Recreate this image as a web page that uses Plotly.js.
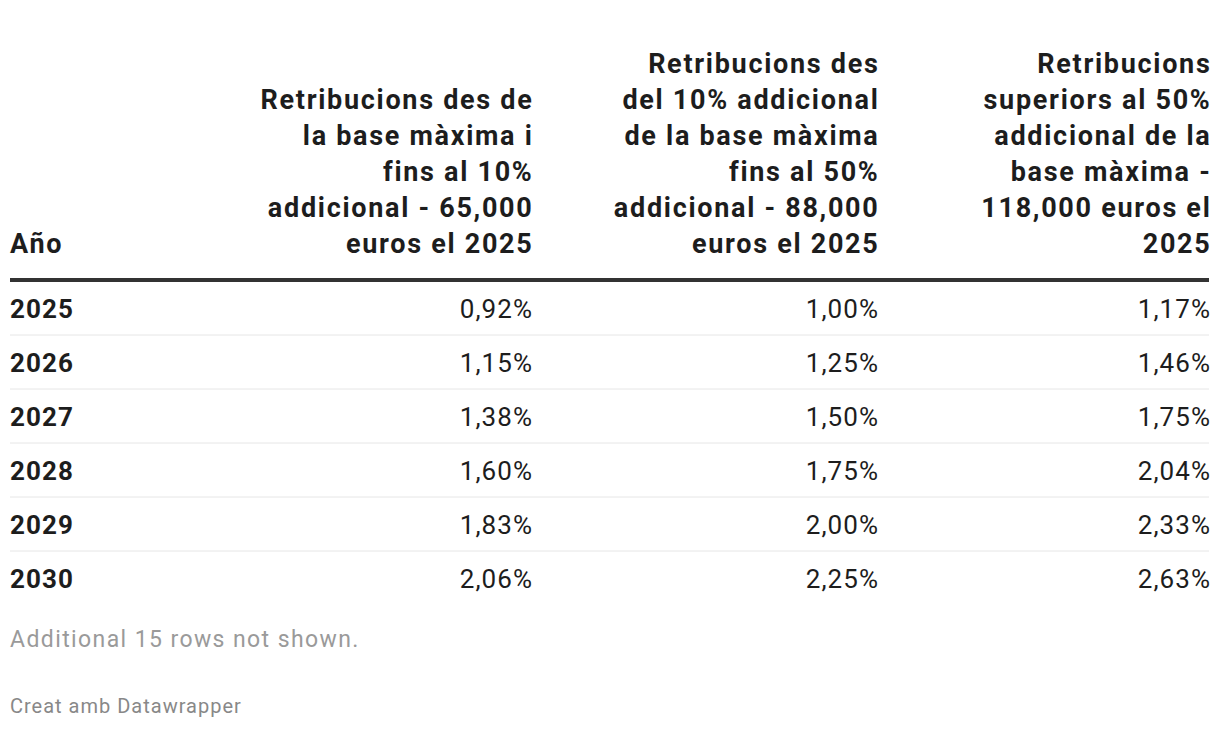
<!DOCTYPE html>
<html>
<head>
<meta charset="utf-8">
<script src="https://cdn.plot.ly/plotly-3.0.1.min.js"></script>
<style>
html,body{margin:0;padding:0;background:#fff;}
#chart{width:1220px;height:730px;}
#chart .scatterlayer .trace:nth-of-type(-n+4) .textpoint text{letter-spacing:1.05px;}
#chart .scatterlayer .trace:nth-of-type(5) .textpoint text,
#chart .scatterlayer .trace:nth-of-type(6) .textpoint text{letter-spacing:1.7px;}
#chart .scatterlayer .trace:nth-of-type(7) .textpoint text{letter-spacing:1.4px;}
#chart .scatterlayer .trace:nth-of-type(8) .textpoint text{letter-spacing:1px;}
</style>
</head>
<body>
<div id="chart"></div>
<script>
// ---- data ----
const years = ["2025", "2026", "2027", "2028", "2029", "2030"];
const col1 = ["0,92%", "1,15%", "1,38%", "1,60%", "1,83%", "2,06%"];
const col2 = ["1,00%", "1,25%", "1,50%", "1,75%", "2,00%", "2,25%"];
const col3 = ["1,17%", "1,46%", "1,75%", "2,04%", "2,33%", "2,63%"];
const header0 = ["Año"];
const header1 = ["Retribucions des de", "la base màxima i", "fins al 10%", "addicional - 65,000", "euros el 2025"];
const header2 = ["Retribucions des", "del 10% addicional", "de la base màxima", "fins al 50%", "addicional - 88,000", "euros el 2025"];
const header3 = ["Retribucions", "superiors al 50%", "addicional de la", "base màxima -", "118,000 euros el", "2025"];
const note = "Additional 15 rows not shown.";
const credit = "Creat amb Datawrapper";

// ---- style / layout ----
const W = 1220, H = 730;
const colX = [10, 531, 877, 1209];      // left edge for first col, right edges for others
const rowY0 = 308, rowH = 54;           // row centers
const textDy = 3;                       // optical centering of text
const headLast = 243, headLH = 36;
const ruleY = 280;
const noteY = 639, creditY = 706;
const FONT = "Roboto, 'Liberation Sans', Arial, sans-serif";
const TXT = "#1d1d1d";
const fsBody = 26, fsHead = 27;

const rowYs = years.map((_, i) => rowY0 + i * rowH);

function textTrace(xs, ys, texts, pos, size, color) {
  return {
    type: "scatter", mode: "text",
    x: xs, y: ys, text: texts,
    textposition: pos,
    textfont: {family: FONT, size: size, color: color},
    hoverinfo: "skip", showlegend: false, cliponaxis: false
  };
}

const traces = [];
// body (traces 1-4)
traces.push(textTrace(years.map(() => colX[0]), rowYs.map(y => y + textDy),
  years.map(v => "<b>" + v + "</b>"), "middle right", fsBody, TXT));
[col1, col2, col3].forEach((col, c) => {
  traces.push(textTrace(col.map(() => colX[c + 1] + 2), rowYs.map(y => y + textDy),
    col, "middle left", fsBody, TXT));
});
// header left (trace 5)
traces.push(textTrace(header0.map(() => colX[0]),
  header0.map((_, i) => headLast - (header0.length - 1 - i) * headLH + textDy),
  header0.map(t => "<b>" + t + "</b>"), "middle right", fsHead, TXT));
// header right columns (trace 6)
const hx = [], hy = [], ht = [];
[header1, header2, header3].forEach((lines, c) => {
  lines.forEach((ln, i) => {
    hx.push(colX[c + 1] + 2.5);
    hy.push(headLast - (lines.length - 1 - i) * headLH + textDy);
    ht.push("<b>" + ln + "</b>");
  });
});
traces.push(textTrace(hx, hy, ht, "middle left", fsHead, TXT));
// footer (traces 7-8)
traces.push(textTrace([colX[0]], [noteY + 2], [note], "middle right", 23, "#9a9a9a"));
traces.push(textTrace([colX[0]], [creditY + 2], [credit], "middle right", 20, "#888888"));

const shapes = [{type: "line", xref: "x", yref: "y", x0: colX[0], x1: colX[3], y0: ruleY, y1: ruleY,
  line: {color: "#333333", width: 4}}];
for (let i = 0; i < years.length - 1; i++) {
  const y = rowYs[i] + rowH / 2;
  shapes.push({type: "line", xref: "x", yref: "y", x0: colX[0], x1: colX[3], y0: y, y1: y,
    line: {color: "#e6e6e6", width: 1}});
}

const layout = {
  width: W, height: H,
  margin: {l: 0, r: 0, t: 0, b: 0},
  paper_bgcolor: "#ffffff", plot_bgcolor: "#ffffff",
  xaxis: {range: [0, W], visible: false, fixedrange: true},
  yaxis: {range: [H, 0], visible: false, fixedrange: true},
  shapes: shapes,
  font: {family: FONT}
};

Plotly.newPlot("chart", traces, layout, {displayModeBar: false, staticPlot: true});
</script>
</body>
</html>
